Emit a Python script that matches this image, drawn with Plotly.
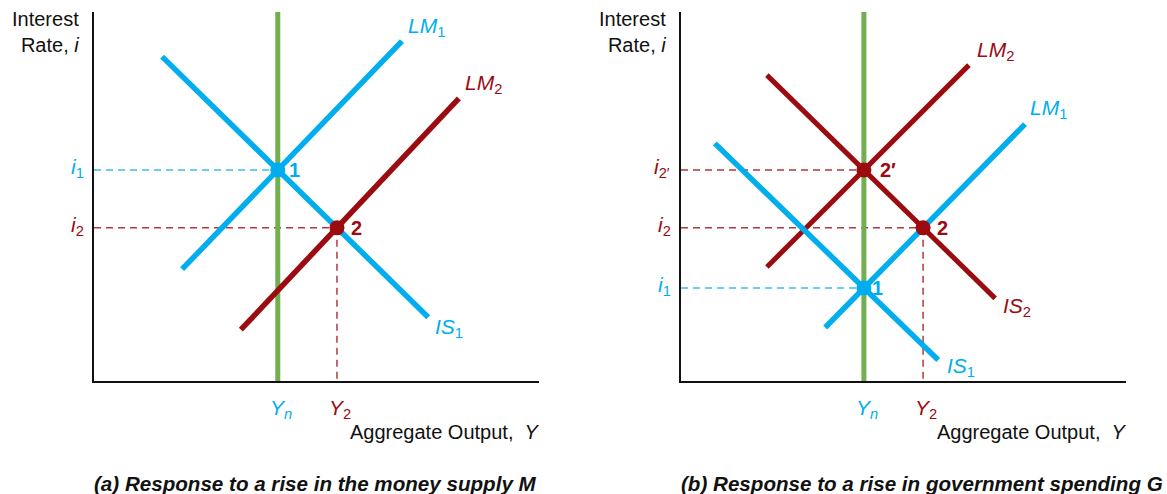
import plotly.graph_objects as go

# ---------------- data (abstract units: both axes run 0..100) ----------------
# Panel (a): rise in money supply
YN_A = 41.3
Y2_A = 54.6
I1_A = 57.2
I2_A = 41.5
IS1_A_X = [15.3, 75.1]
IS1_A_Y = [87.9, 17.3]
LM1_A_X = [19.8, 69.2]
LM1_A_Y = [30.3, 92.1]
LM2_A_X = [33.0, 82.0]
LM2_A_Y = [13.9, 76.6]

# Panel (b): rise in government spending
YN_B = 41.1
Y2_B = 54.4
I1_B = 25.2
I2_B = 41.5
I2P_B = 57.2
IS1_B_X = [7.6, 57.8]
IS1_B_Y = [64.4, 5.7]
LM1_B_X = [32.4, 77.3]
LM1_B_Y = [14.5, 69.6]
IS2_B_X = [19.3, 70.6]
IS2_B_Y = [82.9, 22.4]
LM2_B_X = [19.3, 64.7]
LM2_B_Y = [30.9, 85.6]

AXIS_MAX = 100

# ---------------- styles ----------------
BLUE = "#00AEEF"
RED = "#9B0B0F"
GREEN = "#72AF50"
DASH_BLUE = "#3DBDF2"
DASH_RED = "#B0393C"
FONT = "Liberation Sans, Arial, sans-serif"
W, H = 1167, 494

fig = go.Figure()


def line(xa, ya, x, y, color, width, dash=None):
    fig.add_trace(go.Scatter(x=x, y=y, xaxis=xa, yaxis=ya, mode="lines",
                             line=dict(color=color, width=width, dash=dash),
                             hoverinfo="skip", showlegend=False))


def point(xa, ya, x, y, color):
    fig.add_trace(go.Scatter(x=[x], y=[y], xaxis=xa, yaxis=ya, mode="markers",
                             marker=dict(color=color, size=15),
                             hoverinfo="skip", showlegend=False))


def text(xr, yr, x, y, t, color, size=18, xs=0, ys=0, xanchor="center", yanchor="middle", align="center"):
    fig.add_annotation(xref=xr, yref=yr, x=x, y=y, text=t, showarrow=False,
                       font=dict(family=FONT, size=size, color=color),
                       xshift=xs, yshift=ys, xanchor=xanchor, yanchor=yanchor, align=align)


DASH = "7px,5px"
LBL = 21
NUM = 20
CAP = 20.6

# ---------- panel (a) ----------
line("x", "y", [0, YN_A], [I1_A, I1_A], DASH_BLUE, 1.5, DASH)
line("x", "y", [0, Y2_A], [I2_A, I2_A], DASH_RED, 1.5, DASH)
line("x", "y", [Y2_A, Y2_A], [I2_A, 0], DASH_RED, 1.5, DASH)
line("x", "y", [YN_A, YN_A], [0, AXIS_MAX], GREEN, 5)
line("x", "y", LM2_A_X, LM2_A_Y, RED, 5.5)
line("x", "y", LM1_A_X, LM1_A_Y, BLUE, 5.5)
line("x", "y", IS1_A_X, IS1_A_Y, BLUE, 5.5)
point("x", "y", YN_A, I1_A, BLUE)
point("x", "y", Y2_A, I2_A, RED)

text("x", "y", YN_A, I1_A, "<b>1</b>", BLUE, NUM, xs=17)
text("x", "y", Y2_A, I2_A, "<b>2</b>", RED, NUM, xs=20)
text("x", "y", LM1_A_X[1], LM1_A_Y[1], "<i>LM</i><sub>1</sub>", BLUE, LBL, xs=25, ys=14)
text("x", "y", LM2_A_X[1], LM2_A_Y[1], "<i>LM</i><sub>2</sub>", RED, LBL, xs=25, ys=14)
text("x", "y", IS1_A_X[1], IS1_A_Y[1], "<i>IS</i><sub>1</sub>", BLUE, LBL, xs=21, ys=-11)
text("x", "y", 0, I1_A, "<i>i</i><sub>1</sub>", BLUE, 21, xs=-17, ys=2)
text("x", "y", 0, I2_A, "<i>i</i><sub>2</sub>", RED, 21, xs=-17, ys=2)
text("x", "y", YN_A, 0, "<i>Y<sub>n</sub></i>", BLUE, 21, xs=3, ys=-28)
text("x", "y", Y2_A, 0, "<i>Y</i><sub>2</sub>", RED, 21, xs=3, ys=-28)

# ---------- panel (b) ----------
line("x2", "y2", [0, YN_B], [I1_B, I1_B], DASH_BLUE, 1.5, DASH)
line("x2", "y2", [0, Y2_B], [I2_B, I2_B], DASH_RED, 1.5, DASH)
line("x2", "y2", [0, YN_B], [I2P_B, I2P_B], DASH_RED, 1.5, DASH)
line("x2", "y2", [Y2_B, Y2_B], [I2_B, 0], DASH_RED, 1.5, DASH)
line("x2", "y2", [YN_B, YN_B], [0, AXIS_MAX], GREEN, 5)
line("x2", "y2", IS2_B_X, IS2_B_Y, RED, 5)
line("x2", "y2", LM2_B_X, LM2_B_Y, RED, 5)
line("x2", "y2", IS1_B_X, IS1_B_Y, BLUE, 5.5)
line("x2", "y2", LM1_B_X, LM1_B_Y, BLUE, 5.5)
point("x2", "y2", YN_B, I1_B, BLUE)
point("x2", "y2", Y2_B, I2_B, RED)
point("x2", "y2", YN_B, I2P_B, RED)

text("x2", "y2", YN_B, I1_B, "<b>1</b>", BLUE, NUM, xs=14)
text("x2", "y2", Y2_B, I2_B, "<b>2</b>", RED, NUM, xs=19)
text("x2", "y2", YN_B, I2P_B, "<b>2′</b>", RED, NUM, xs=24)
text("x2", "y2", LM2_B_X[1], LM2_B_Y[1], "<i>LM</i><sub>2</sub>", RED, LBL, xs=27, ys=14)
text("x2", "y2", LM1_B_X[1], LM1_B_Y[1], "<i>LM</i><sub>1</sub>", BLUE, LBL, xs=24, ys=15)
text("x2", "y2", IS2_B_X[1], IS2_B_Y[1], "<i>IS</i><sub>2</sub>", RED, LBL, xs=22, ys=-9)
text("x2", "y2", IS1_B_X[1], IS1_B_Y[1], "<i>IS</i><sub>1</sub>", BLUE, LBL, xs=23, ys=-7)
text("x2", "y2", 0, I2P_B, "<i>i</i><sub>2′</sub>", RED, 21, xs=-19, ys=2)
text("x2", "y2", 0, I2_B, "<i>i</i><sub>2</sub>", RED, 21, xs=-17, ys=2)
text("x2", "y2", 0, I1_B, "<i>i</i><sub>1</sub>", BLUE, 21, xs=-17, ys=2)
text("x2", "y2", YN_B, 0, "<i>Y<sub>n</sub></i>", BLUE, 21, xs=3, ys=-28)
text("x2", "y2", Y2_B, 0, "<i>Y</i><sub>2</sub>", RED, 21, xs=3, ys=-28)

# ---------- axis titles and captions ----------
for xr, yr in (("x domain", "y domain"), ("x2 domain", "y2 domain")):
    text(xr, yr, 0, 1, "Interest<br>Rate, <i>i</i>", "#111111", 20, xs=-13, ys=6,
         xanchor="right", yanchor="top", align="right")
    text(xr, yr, 1, 0, "Aggregate Output,  <i>Y</i>", "#111111", 20, xs=3, ys=-51,
         xanchor="right", yanchor="middle", align="right")

text("x domain", "y domain", 0, 0, "<b><i>(a) Response to a rise in the money supply M</i></b>",
     "#111111", CAP, xs=-2, ys=-102, xanchor="left")
text("x2 domain", "y2 domain", 0, 0, "<b><i>(b) Response to a rise in government spending G</i></b>",
     "#111111", CAP, xs=-2, ys=-102, xanchor="left")

# ---------- axes ----------
def px_x(a, b):
    return [a / W, b / W]


Y_DOM = [(H - 381) / H, (H - 12) / H]
ax_common = dict(range=[0, AXIS_MAX], showgrid=False, zeroline=False, showticklabels=False,
                 ticks="", showline=True, linecolor="#111111", linewidth=1.6, fixedrange=True)

fig.update_layout(
    width=W, height=H,
    margin=dict(l=0, r=0, t=0, b=0),
    paper_bgcolor="white", plot_bgcolor="white",
    showlegend=False,
    xaxis=dict(domain=px_x(94, 539), anchor="y", **ax_common),
    yaxis=dict(domain=Y_DOM, anchor="x", **ax_common),
    xaxis2=dict(domain=px_x(681, 1126), anchor="y2", **ax_common),
    yaxis2=dict(domain=Y_DOM, anchor="x2", **ax_common),
)

fig.write_html("out.html", config={"displayModeBar": False},
               post_script="document.body.style.margin='0';document.body.style.overflow='hidden';")
